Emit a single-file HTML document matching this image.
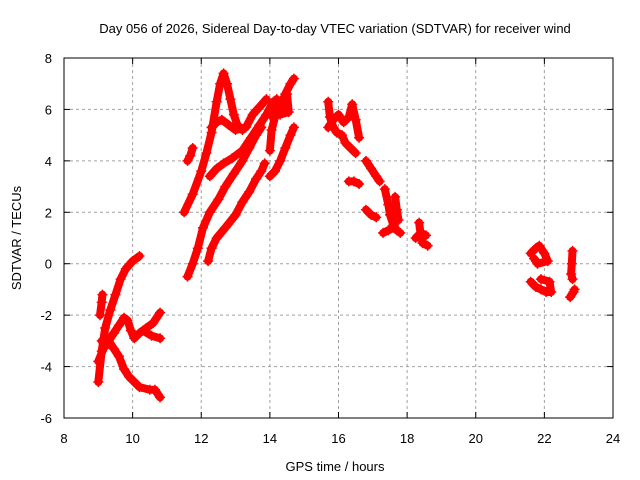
<!DOCTYPE html>
<html><head><meta charset="utf-8"><style>
body{margin:0;background:#fff}
svg{display:block;font-family:"Liberation Sans",Arial,sans-serif;font-size:13px}
</style></head><body>
<svg id="chart" width="640" height="480">
<text x="335" y="33" text-anchor="middle">Day 056 of 2026, Sidereal Day-to-day VTEC variation (SDTVAR) for receiver wind</text>
<g id="grid"></g>
<g id="marks"></g>
<rect x="64" y="58" width="549" height="360" fill="none" stroke="#000"/>
<g id="ticks"></g>
<text x="335" y="471" text-anchor="middle">GPS time / hours</text>
<text transform="translate(21,238) rotate(-90)" text-anchor="middle">SDTVAR / TECUs</text>
</svg>
<script>
const xTicks=[8,10,12,14,16,18,20,22,24];
const yTicks=[-6,-4,-2,0,2,4,6,8];
const traceA=[[9.0,-4.6],[9.1,-3.4],[9.2,-2.5],[9.35,-1.8],[9.5,-1.2],[9.65,-0.6],[9.8,-0.2],[10.0,0.1],[10.2,0.3]];
const traceB=[[9.05,-2.0],[9.1,-1.5],[9.12,-1.2]];
const traceC=[[9.1,-3.0],[9.3,-3.0],[9.45,-3.3],[9.6,-3.6],[9.75,-4.1],[9.9,-4.4],[10.2,-4.8],[10.5,-4.9],[10.65,-4.9],[10.8,-5.2]];
const traceD=[[9.0,-3.8],[9.15,-3.3],[9.3,-3.0],[9.45,-2.7],[9.6,-2.4],[9.75,-2.1],[9.85,-2.2],[9.95,-2.6],[10.05,-2.9],[10.2,-2.7],[10.4,-2.5],[10.6,-2.3],[10.8,-1.9]];
const traceD2=[[10.3,-2.6],[10.55,-2.8],[10.8,-2.9]];
const traceE=[[11.6,4.0],[11.68,4.2],[11.75,4.5]];
const traceL1=[[11.5,2.0],[11.75,2.7],[12.0,3.6],[12.15,4.3],[12.3,5.1],[12.45,6.3],[12.55,7.0],[12.65,7.4],[12.75,7.0],[12.85,6.4],[12.95,5.8],[13.05,5.4],[13.2,5.2]];
const traceL2=[[12.3,5.3],[12.45,5.5],[12.6,5.6],[12.8,5.4],[13.0,5.2],[13.3,5.3],[13.5,5.8],[13.7,6.1],[13.9,6.4]];
const traceL3=[[12.25,3.4],[12.45,3.7],[12.65,3.9],[12.9,4.1],[13.2,4.4],[13.45,4.9],[13.7,5.4],[13.9,5.8],[14.1,6.3]];
const traceL4=[[11.6,-0.5],[11.75,0.0],[11.9,0.6],[12.05,1.4],[12.25,2.0],[12.5,2.5],[12.7,3.0],[12.95,3.5],[13.2,4.0],[13.4,4.5],[13.6,5.0],[13.75,5.3]];
const traceL5=[[12.2,0.1],[12.3,0.6],[12.45,1.0],[12.7,1.4],[13.0,1.9],[13.2,2.4],[13.4,2.8],[13.6,3.3],[13.75,3.6],[13.85,3.9]];
const traceL6=[[14.0,3.4],[14.15,3.6],[14.3,4.0],[14.45,4.5],[14.6,5.0],[14.7,5.3]];
const traceL7=[[14.0,4.4],[14.05,5.2],[14.15,5.7],[14.3,6.1],[14.45,6.6],[14.6,7.0],[14.7,7.2]];
const traceL8=[[14.0,5.8],[14.2,6.4],[14.35,6.1],[14.5,6.6],[14.55,5.9],[14.3,5.8],[14.1,6.1]];
const traceR1=[[15.7,6.3],[15.75,5.7],[15.85,5.3],[15.95,5.1],[16.1,5.0],[16.2,4.7],[16.35,4.5],[16.5,4.3]];
const traceR2=[[15.7,5.3],[15.85,5.6],[16.0,5.8],[16.15,5.5],[16.3,5.7],[16.4,6.2],[16.5,5.6],[16.6,4.9]];
const traceR3=[[16.3,3.2],[16.45,3.2],[16.6,3.1]];
const traceR4=[[16.8,4.0],[16.95,3.7],[17.1,3.4],[17.2,3.2]];
const traceR5=[[16.8,2.1],[16.95,1.9],[17.1,1.8]];
const traceR6=[[17.35,2.9],[17.45,2.3],[17.5,1.9],[17.6,1.5],[17.7,1.3],[17.8,1.2]];
const traceR7=[[17.3,1.2],[17.45,1.3],[17.6,1.4]];
const traceR8=[[17.65,2.6],[17.7,2.1],[17.75,1.7]];
const traceR9=[[18.35,1.6],[18.4,1.1],[18.45,0.8],[18.6,0.7]];
const traceR10=[[18.25,1.0],[18.4,1.2],[18.55,1.1]];
const traceF1=[[21.6,0.4],[21.75,0.6],[21.85,0.7],[22.0,0.4],[22.1,0.1],[21.8,-0.0],[21.7,0.2]];
const traceF2=[[21.6,-0.7],[21.75,-0.9],[21.9,-1.0],[22.05,-1.1],[22.2,-1.1],[22.15,-0.7],[21.9,-0.6]];
const traceF3=[[22.82,0.5],[22.8,0.0],[22.78,-0.4],[22.82,-0.6]];
const traceF4=[[22.75,-1.3],[22.85,-1.1],[22.88,-1.0]];
const traces=[traceA,traceB,traceC,traceD,traceD2,traceE,traceL1,traceL2,traceL3,traceL4,traceL5,traceL6,traceL7,traceL8,traceR1,traceR2,traceR3,traceR4,traceR5,traceR6,traceR7,traceR8,traceR9,traceR10,traceF1,traceF2,traceF3,traceF4];

const NS="http://www.w3.org/2000/svg";
const X0=64,X1=613,Y0=418,Y1=58,XMIN=8,XMAX=24,YMIN=-6,YMAX=8;
function xs(v){return X0+(v-XMIN)*(X1-X0)/(XMAX-XMIN);}
function ys(v){return Y0-(v-YMIN)*(Y0-Y1)/(YMAX-YMIN);}
function mk(t,a,p){const e=document.createElementNS(NS,t);for(const k in a)e.setAttribute(k,a[k]);p.appendChild(e);return e;}
const grid=document.getElementById('grid'),ticks=document.getElementById('ticks'),marks=document.getElementById('marks');
xTicks.forEach(v=>{
  const x=xs(v);
  if(v>XMIN&&v<XMAX){const g=mk('line',{x1:x,x2:x,y1:Y1,y2:Y0,stroke:'#a0a0a0','stroke-dasharray':'3,3'},grid);
  
  }
  mk('line',{x1:x,x2:x,y1:Y0,y2:Y0-6,stroke:'#000'},ticks);
  mk('line',{x1:x,x2:x,y1:Y1,y2:Y1+6,stroke:'#000'},ticks);
  const t=mk('text',{x:x,y:443,'text-anchor':'middle'},ticks);t.textContent=v;
  
  
});
yTicks.forEach(v=>{
  const y=ys(v);
  if(v>YMIN&&v<YMAX){const g=mk('line',{x1:X0,x2:X1,y1:y,y2:y,stroke:'#a0a0a0','stroke-dasharray':'3,3'},grid);
  
  }
  mk('line',{x1:X0,x2:X0+6,y1:y,y2:y,stroke:'#000'},ticks);
  mk('line',{x1:X1,x2:X1-6,y1:y,y2:y,stroke:'#000'},ticks);
  const t=mk('text',{x:52,y:y+5,'text-anchor':'end'},ticks);t.textContent=v;
  
  
});
traces.forEach(tr=>{
  const pts=tr.map(p=>xs(p[0]).toFixed(1)+','+ys(p[1]).toFixed(1)).join(' ');
  const pl=mk('polyline',{points:pts,fill:'none',stroke:'#f00','stroke-width':8,'stroke-linejoin':'round','stroke-linecap':'round'},marks);
  
  
  tr.forEach(p=>{
    const x=xs(p[0]),y=ys(p[1]);
    const m=mk('path',{d:`M${x-5},${y}H${x+5}M${x},${y-5}V${y+5}`,stroke:'#f00','stroke-width':1.5},marks);
    
    
  });
});
</script>
</body></html>
